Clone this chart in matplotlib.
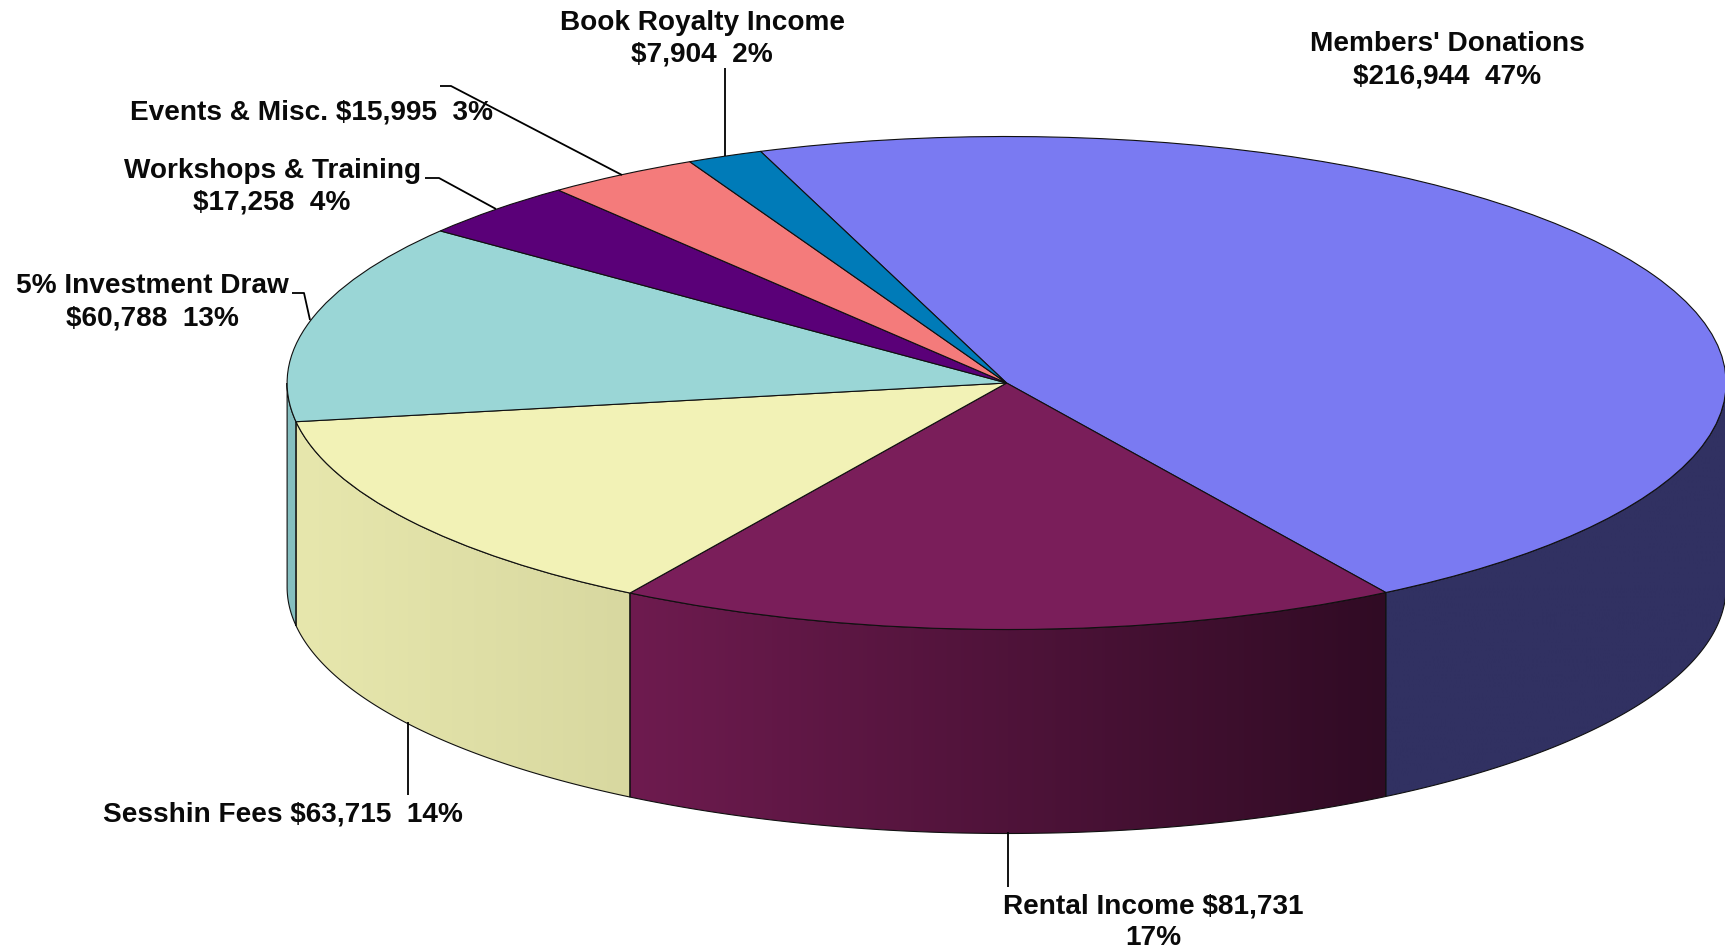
import numpy as np
import matplotlib
matplotlib.use('Agg')
import matplotlib.pyplot as plt
from matplotlib.colors import to_rgb
from matplotlib.patches import Polygon

# income by source, dollars
sources = ['Members\' Donations', 'Rental Income', 'Sesshin Fees', '5% Investment Draw',
           'Workshops & Training', 'Events & Misc.', 'Book Royalty Income']
amounts = [216944, 81731, 63715, 60788, 17258, 15995, 7904]
percents = [47, 17, 14, 13, 4, 3, 2]

top_colors = ['#7A7AF2', '#7A1E5A', '#F2F2B6', '#9AD6D6', '#5A0078', '#F47B7B', '#007BB8']
wall_colors = [('#313162', '#313162'), ('#6E1B4F', '#300B24'), ('#E7E7AD', '#D8D8A0'),
               ('#85BFC0', '#85BFC0')]

W, H = 1725, 951
CX, CY = 1006.6, 383.0    # pie centre, px
RX, RY = 719.5, 246.5     # ellipse radii, px
DEPTH = 204.0             # height of the side wall, px
START = 110.0

plt.rcParams['font.family'] = ['Liberation Sans', 'DejaVu Sans']

fig = plt.figure(figsize=(W / 100, H / 100), dpi=100, facecolor='white')
ax = fig.add_axes([0, 0, 1, 1])

ax.pie(amounts, colors=top_colors, startangle=START, counterclock=False, radius=1,
       wedgeprops={'edgecolor': '#101010', 'linewidth': 0.8})
ax.set_aspect('auto')

# slice boundaries, going clockwise from the start angle
ends = START - 360.0 * np.cumsum(amounts) / np.sum(amounts)
starts = np.concatenate([[START], ends[:-1]])
depth = DEPTH / RY

# front wall: only the part of each slice below the horizontal axis is visible
for i, (c0, c1) in enumerate(wall_colors):
    t0 = min(starts[i], 0.0)
    t1 = max(ends[i], -180.0)
    t = np.radians(np.linspace(t0, t1, 200))
    xs = np.cos(t)
    ys = np.sin(t)
    pts = np.column_stack([np.r_[xs, xs[::-1]], np.r_[ys, ys[::-1] - depth]])
    # colours run left to right, the arc runs right to left
    grad = np.linspace(to_rgb(c0), to_rgb(c1), 256)[np.newaxis, :, :]
    im = ax.imshow(grad, extent=(xs.min(), xs.max(), pts[:, 1].min(), pts[:, 1].max()),
                   aspect='auto', zorder=0)
    outline = Polygon(pts, closed=True, facecolor='none', edgecolor='#101010',
                      linewidth=0.8, zorder=0.5)
    ax.add_patch(outline)
    im.set_clip_path(outline)

ax.set_xlim(-CX / RX, (W - CX) / RX)
ax.set_ylim((CY - H) / RY, CY / RY)
ax.axis('off')

# labels and leader lines live on a pixel overlay
ov = fig.add_axes([0, 0, 1, 1])
ov.set_xlim(0, W)
ov.set_ylim(H, 0)
ov.axis('off')
ov.patch.set_alpha(0)

def money(i):
    return f'${amounts[i]:,}  {percents[i]}%'

labels = [
    (sources[0] + '\n' + money(0), 1447, 60),
    (sources[1] + f' ${amounts[1]:,}\n{percents[1]}%', 1153, 922),
    (sources[2] + ' ' + money(2), 283, 814),
    (sources[3] + '\n' + money(3), 152, 302),
    (sources[4] + '\n' + money(4), 272, 187),
    (sources[5] + ' ' + money(5), 311, 112),
    (sources[6] + '\n' + money(6), 702, 39),
]
for text, x, y in labels:
    ov.text(x, y, text, ha='center', va='center', fontsize=20.2, fontweight='bold',
            color='#0A0A0A', linespacing=1.3)

leaders = [
    ([725, 725], [68, 156]),
    ([440, 451, 622], [86, 86, 175]),
    ([425, 439, 496], [178, 178, 209]),
    ([292, 304, 310], [293, 293, 320]),
    ([408, 408], [722, 795]),
    ([1008, 1008], [832, 887]),
]
for xs, ys in leaders:
    ov.plot(xs, ys, color='black', linewidth=1.3, solid_capstyle='butt')

fig.savefig('out.png', dpi=100, facecolor='white')
